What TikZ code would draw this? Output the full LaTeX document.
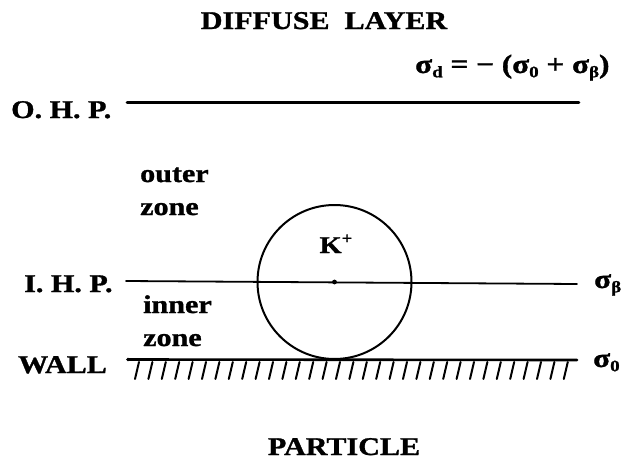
\documentclass[tikz,border=0pt]{standalone}
\usepackage{fontspec}
\setmainfont{Liberation Serif}[FakeStretch=1.18,FakeBold=1.2]
\newcommand{\lowsub}[1]{\raisebox{-0.35ex}{\fontsize{16}{16}\selectfont #1}}
\begin{document}
\begin{tikzpicture}[x=1pt,y=-1pt,
  lbl/.style={inner sep=0pt,font=\fontsize{25.5}{28}\selectfont\bfseries},
  thinline/.style={line width=1.8pt,line cap=round},
  thickline/.style={line width=2.6pt,line cap=round},
  hatchline/.style={line width=2pt,line cap=round}]
\useasboundingbox (0,0) rectangle (622,461);
% labels
\node[lbl,anchor=base] (diffuse) at (324,29) {DIFFUSE\ \ LAYER};
\node[lbl,anchor=base] (particle) at (344,455) {PARTICLE};
\node[lbl,anchor=base west] (ohp) at (11,118) {O. H. P.};
\node[lbl,anchor=base west] (ihp) at (24,292) {I. H. P.};
\node[lbl,anchor=base west] (wall) at (18,373) {WALL};
\node[lbl,anchor=base west] (outer) at (140,182) {outer};
\node[lbl,anchor=base west] (outerz) at (140,215) {zone};
\node[lbl,anchor=base west] (inner) at (143,313) {inner};
\node[lbl,anchor=base west] (innerz) at (143,346) {zone};
\node[lbl,anchor=base west,font=\fontsize{26.5}{28}\selectfont\bfseries] (sigd) at (415,73) {σ\lowsub{d} = − (σ\lowsub{0} + σ\lowsub{β})};
\node[lbl,anchor=base west,font=\fontsize{26.5}{28}\selectfont\bfseries] (sigb) at (594,288) {σ\lowsub{β}};
\node[lbl,anchor=base west,font=\fontsize{26.5}{28}\selectfont\bfseries] (sig0) at (593,367) {σ\lowsub{0}};
\node[lbl,anchor=base,font=\fontsize{24}{26}\selectfont\bfseries] (kion) at (336,253) {K\raisebox{0.85ex}{\fontsize{16}{16}\selectfont +}};
% line end points
\coordinate (ohpL) at (127,102.5);
\coordinate (ohpR) at (579,102.5);
\coordinate (ihpL) at (126,281);
\coordinate (ihpR) at (577,284);
\coordinate (wallL) at (128,359.5);
\coordinate (wallR) at (577,360);
\coordinate (ctr) at (334.5,282);
% lines
\draw[thickline] (ohpL) -- (ohpR);
\draw[thinline] (ihpL) -- (ihpR);
\draw[thickline] (wallL) -- (wallR);
\fill (wallL) circle (1.8pt);
% circle (ion)
\draw[line width=2pt] (ctr) circle (77);
\fill (ctr) circle (2.4pt);
% hatching
\foreach \i in {0,...,32}{
  \draw[hatchline] ({139+13.4*\i},362) -- ({135+13.4*\i},379);
}
\end{tikzpicture}
\end{document}
